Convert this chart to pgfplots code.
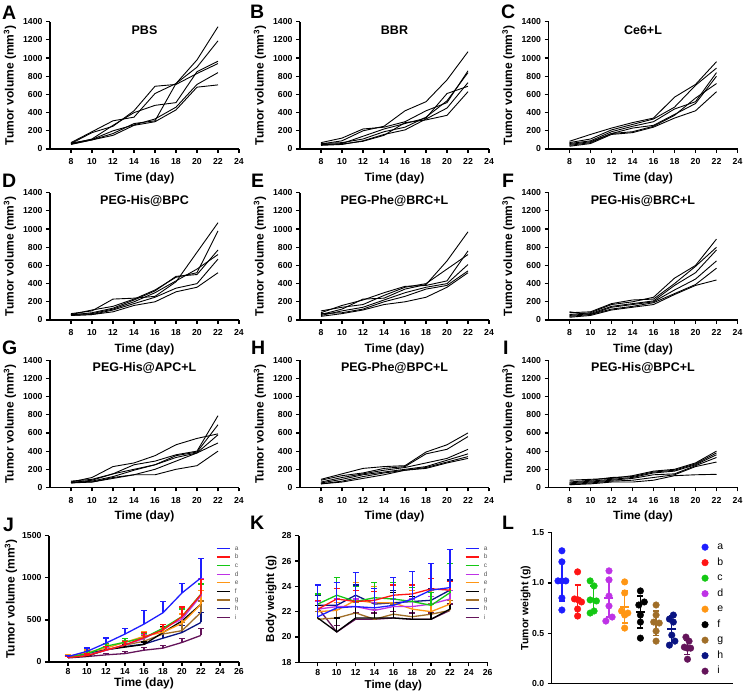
\documentclass[border=0pt]{standalone}
\usepackage{pgfplots}
\usepackage{pgfplotstable}
\pgfplotsset{compat=1.18}
\usepackage{fontspec}
\setmainfont{Liberation Sans}

\definecolor{ca}{RGB}{30,30,255}
\definecolor{cb}{RGB}{255,20,20}
\definecolor{cc}{RGB}{20,200,20}
\definecolor{cd}{RGB}{190,50,230}
\definecolor{ce}{RGB}{255,150,20}
\definecolor{cf}{RGB}{0,0,0}
\definecolor{cg}{RGB}{160,110,40}
\definecolor{ch}{RGB}{10,20,130}
\definecolor{ci}{RGB}{100,20,90}

\pgfplotstableread{
x l1 l2 l3 l4 l5 l6
8 60 70 55 50 65 55
10 180 190 110 100 105 100
12 250 310 260 170 200 150
14 420 350 400 280 265 260
16 690 610 480 310 330 300
18 710 720 510 720 460 430
20 830 900 850 980 710 680
22 940 1190 965 1345 840 705
}\tA
\pgfplotstableread{
x l1 l2 l3 l4 l5 l6
8 55 70 45 60 40 50
10 90 120 60 70 50 55
12 200 220 140 110 90 85
14 250 240 220 190 160 150
16 420 300 280 240 210 290
18 520 420 340 350 330 320
20 760 510 610 530 450 370
22 1070 860 690 840 730 630
}\tB
\pgfplotstableread{
x l1 l2 l3 l4 l5 l6
8 85 70 60 50 40 30
10 160 110 90 80 70 60
12 230 210 190 170 170 160
14 290 270 250 230 190 180
16 340 330 300 260 250 240
18 570 460 440 380 370 340
20 710 700 520 500 560 420
22 960 890 840 800 720 630
}\tC
\pgfplotstableread{
x l1 l2 l3 l4 l5 l6
8 70 60 55 60 50 50
10 100 110 80 70 60 60
12 230 150 130 120 110 90
14 240 230 220 200 180 160
16 260 330 320 300 250 200
18 420 470 480 430 350 310
20 745 520 500 560 400 360
22 1070 980 770 720 670 520
}\tD
\pgfplotstableread{
x l1 l2 l3 l4 l5 l6
8 60 80 100 50 70 40
10 120 160 140 100 80 70
12 230 220 170 140 120 110
14 240 300 270 220 200 170
16 340 370 360 300 260 200
18 390 380 400 360 340 250
20 650 430 560 400 380 360
22 970 760 720 610 540 520
}\tE
\pgfplotstableread{
x l1 l2 l3 l4 l5 l6
8 60 80 50 40 90 30
10 80 90 70 60 60 50
12 170 180 150 140 120 110
14 200 220 180 170 150 140
16 250 230 210 200 190 170
18 460 400 380 330 290 280
20 600 590 520 450 390 380
22 890 800 770 650 570 440
}\tF
\pgfplotstableread{
x l1 l2 l3 l4 l5 l6
8 60 70 55 50 60 50
10 110 90 80 70 60 60
12 230 150 150 120 100 110
14 270 250 200 190 140 140
16 350 290 250 250 200 140
18 470 360 350 330 290 200
20 540 400 390 380 380 240
22 590 790 690 580 490 400
}\tG
\pgfplotstableread{
x l1 l2 l3 l4 l5 l6
8 90 80 60 50 40 40
10 150 130 110 90 70 60
12 210 160 150 140 120 100
14 230 210 190 170 160 140
16 240 230 220 200 190 190
18 390 370 270 230 220 210
20 470 420 320 300 280 270
22 600 560 420 370 340 320
}\tH
\pgfplotstableread{
x l1 l2 l3 l4 l5 l6
8 80 60 50 40 30 30
10 90 80 70 60 50 40
12 100 110 90 80 70 60
14 130 120 110 100 80 60
16 180 170 160 140 110 80
18 200 190 180 150 140 130
20 270 260 250 240 230 140
22 400 380 360 330 280 145
}\tI
\pgfplotstableread{
x a ae b be c ce d de e ee f fe g ge h he i ie
8 65 12 53 8 56 15 57 10 67 20 58 20 57 8 60 20 48 20
10 126 40 75 20 95 25 80 20 112 30 68 15 78 18 102 35 65 20
12 225 60 141 40 188 30 138 35 165 40 145 25 143 45 147 40 85 20
14 332 63 202 40 235 40 205 35 233 45 177 30 200 50 183 35 100 25
16 450 162 290 60 287 50 277 50 305 60 208 30 247 70 212 20 140 35
18 585 133 380 65 400 50 400 50 353 55 350 65 333 90 283 80 165 30
20 820 116 538 115 540 90 509 130 460 110 488 90 372 100 350 80 232 45
22 1000 232 803 180 807 120 788 200 687 160 687 160 590 135 470 120 316 85
}\tJ
\pgfplotstableread{
x a ae b be c ce d de e ee f fe g ge h he i ie
8 21.6 2.5 22.2 0.7 22.6 0.8 22.2 0.6 22.0 0.8 21.5 1.0 21.4 0.6 22.5 0.8 22.3 0.5
10 22.3 2.0 23.0 0.8 23.3 1.4 22.4 0.6 22.1 0.6 20.4 1.1 21.5 0.7 22.5 1.8 20.4 0.5
12 22.4 2.7 22.8 0.9 22.8 1.2 22.4 0.6 22.9 1.4 21.5 1.5 21.9 0.8 23.3 0.8 21.4 0.5
14 22.3 1.5 22.9 0.7 23.1 1.2 22.1 0.6 22.7 1.3 21.5 2.1 21.4 0.8 22.6 1.0 21.4 0.5
16 22.5 2.2 23.3 0.8 23.0 1.3 22.4 0.6 22.7 1.4 21.5 2.0 21.8 0.8 22.7 1.0 21.5 0.5
18 23.0 2.2 23.4 0.7 22.8 1.1 22.4 0.6 22.2 1.5 21.4 1.8 21.6 0.8 22.8 0.9 21.4 0.5
20 23.7 2.1 23.8 0.8 22.5 1.0 22.6 0.6 22.0 1.7 21.4 1.8 21.8 0.8 22.9 0.9 21.4 0.5
22 23.9 3.0 23.7 0.7 23.5 2.3 23.0 0.7 22.6 1.8 22.2 2.2 22.1 0.8 23.7 0.8 22.1 0.5
}\tK

\pgfplotsset{
  gp/.style={
    scale only axis, anchor=south west,
    axis x line*=bottom, axis y line*=left,
    axis line style={line width=1.2pt},
    tick align=outside, major tick length=4pt,
    every tick/.style={black, line width=1.2pt},
    ticklabel style={font=\bfseries\fontsize{8.7}{10}\selectfont},
    /pgf/number format/assume math mode=true,
    /pgf/number format/1000 sep={},
    scaled ticks=false,
    label style={font=\bfseries\fontsize{12}{14}\selectfont},
  },
  tv/.style={gp, width=189pt, height=127.3pt, xmin=6, xmax=24, ymin=0, ymax=1400,
    xtick={8,10,...,24}, ytick={0,200,...,1400},
    xlabel={Time (day)}, ylabel={Tumor volume (mm\textsuperscript{3})},
    xlabel style={at={(axis description cs:0.5,-0.228)}, anchor=center},
    ylabel style={at={(axis description cs:-0.212,0.5)}, anchor=center},
    xticklabel style={yshift=-2pt},
    title style={at={(axis description cs:0.5,0.89)}, anchor=center, font=\bfseries\fontsize{12.5}{14}\selectfont},
  },
  jk/.style={#1, line width=1.3pt, mark=none,
    error bars/.cd, y dir=plus, y explicit,
    error bar style={line width=1.2pt, #1},
    error mark options={rotate=90, line width=1.2pt, mark size=3pt, #1}},
  lm/.style={forget plot, #1, only marks, mark=-, mark size=4.5pt, mark options={line width=1.2pt},
    error bars/.cd, y dir=both, y explicit,
    error bar style={line width=1.2pt, #1},
    error mark options={rotate=90, line width=1.2pt, mark size=3pt, #1}},
  lp/.style={#1, only marks, mark=*, mark size=3.3pt},
  jleg/.style={legend style={at={(axis description cs:0.863,0.945)}, anchor=north west, draw=none, fill=none,
      font=\fontsize{6.5}{7}\selectfont, text=black!65,
      nodes={inner sep=0.5pt, text height=5pt, text depth=1pt}, row sep=1.6pt,
      /tikz/every odd column/.append style={column sep=4pt}},
    legend cell align=left, reverse legend,
    legend image code/.code={\draw[##1, line width=1.2pt] (0pt,0pt) -- (13pt,0pt);}},
}

\newcommand{\panel}[4]{%
  \begin{axis}[tv, at={(#1)}, title={#3}]
    \pgfplotsinvokeforeach{l1,l2,l3,l4,l5,l6}{\addplot[black, line width=0.9pt, mark=none, solid] table[x=x,y=##1]{#4};}
  \end{axis}}

\newcommand{\plab}[2]{\node[anchor=base west, inner sep=0pt, font=\bfseries\fontsize{19.5}{20}\selectfont] at (#1) {#2};}

\begin{document}
\begin{tikzpicture}
\useasboundingbox (0pt,0pt) rectangle (745pt,-700pt);

\panel{50pt,-149pt}{}{PBS}{\tA}
\panel{300pt,-149pt}{}{BBR}{\tB}
\panel{548.5pt,-149pt}{}{Ce6+L}{\tC}
\panel{50pt,-320pt}{}{PEG-His@BPC}{\tD}
\panel{300pt,-320pt}{}{PEG-Phe@BRC+L}{\tE}
\panel{548.5pt,-320pt}{}{PEG-His@BRC+L}{\tF}
\panel{50pt,-487.5pt}{}{PEG-His@APC+L}{\tG}
\panel{300pt,-487.5pt}{}{PEG-Phe@BPC+L}{\tH}
\panel{548.5pt,-487.5pt}{}{PEG-His@BPC+L}{\tI}

% J
\begin{axis}[gp, at={(49pt,-662pt)}, width=190pt, height=126.3pt,
  xmin=6, xmax=26, ymin=0, ymax=1500, xtick={8,10,...,26}, ytick={0,500,1000,1500},
  xlabel={Time (day)}, ylabel={Tumor volume (mm\textsuperscript{3})},
  xlabel style={at={(axis description cs:0.5,-0.17)}, anchor=center},
  ylabel style={at={(axis description cs:-0.2,0.5)}, anchor=center},
  xticklabel style={yshift=1pt}, jleg]
  \addplot[jk=ci] table[x=x,y=i,y error=ie]{\tJ}; \addlegendentry{i}
  \addplot[jk=ch] table[x=x,y=h,y error=he]{\tJ}; \addlegendentry{h}
  \addplot[jk=cg] table[x=x,y=g,y error=ge]{\tJ}; \addlegendentry{g}
  \addplot[jk=cf] table[x=x,y=f,y error=fe]{\tJ}; \addlegendentry{f}
  \addplot[jk=ce] table[x=x,y=e,y error=ee]{\tJ}; \addlegendentry{e}
  \addplot[jk=cd] table[x=x,y=d,y error=de]{\tJ}; \addlegendentry{d}
  \addplot[jk=cc] table[x=x,y=c,y error=ce]{\tJ}; \addlegendentry{c}
  \addplot[jk=cb] table[x=x,y=b,y error=be]{\tJ}; \addlegendentry{b}
  \addplot[jk=ca] table[x=x,y=a,y error=ae]{\tJ}; \addlegendentry{a}
\end{axis}

% K
\begin{axis}[gp, at={(299pt,-662.3pt)}, width=188.7pt, height=126.6pt,
  xmin=6, xmax=26, ymin=18, ymax=28, xtick={8,10,...,26}, ytick={18,20,...,28},
  xlabel={Time (day)}, ylabel={Body weight (g)},
  label style={font=\bfseries\fontsize{11.5}{13}\selectfont},
  xlabel style={at={(axis description cs:0.5,-0.18)}, anchor=center},
  ylabel style={at={(axis description cs:-0.148,0.5)}, anchor=center},
  xticklabel style={yshift=0pt}, jleg]
  \addplot[jk=ci] table[x=x,y=i,y error=ie]{\tK}; \addlegendentry{i}
  \addplot[jk=ch] table[x=x,y=h,y error=he]{\tK}; \addlegendentry{h}
  \addplot[jk=cg] table[x=x,y=g,y error=ge]{\tK}; \addlegendentry{g}
  \addplot[jk=cf] table[x=x,y=f,y error=fe]{\tK}; \addlegendentry{f}
  \addplot[jk=ce] table[x=x,y=e,y error=ee]{\tK}; \addlegendentry{e}
  \addplot[jk=cd] table[x=x,y=d,y error=de]{\tK}; \addlegendentry{d}
  \addplot[jk=cc] table[x=x,y=c,y error=ce]{\tK}; \addlegendentry{c}
  \addplot[jk=cb] table[x=x,y=b,y error=be]{\tK}; \addlegendentry{b}
  \addplot[jk=ca] table[x=x,y=a,y error=ae]{\tK}; \addlegendentry{a}
\end{axis}

% L
\begin{axis}[gp, at={(551.7pt,-683.3pt)}, width=181.3pt, height=150.6pt,
  xmin=0.35, xmax=11.9, ymin=0, ymax=1.5, ytick={0,0.5,1,1.5}, xtick=\empty,
  yticklabel style={/pgf/number format/.cd, fixed, fixed zerofill, precision=1},
  ylabel={Tumor weight (g)},
  ylabel style={at={(axis description cs:-0.143,0.5)}, anchor=center, font=\bfseries\fontsize{10.5}{12}\selectfont},
  legend style={at={(axis description cs:0.81,0.955)}, anchor=north west, draw=none, fill=none,
    font=\fontsize{10.5}{12}\selectfont, nodes={inner sep=1pt, text height=7pt, text depth=2pt}, row sep=4.5pt,
    /tikz/every odd column/.append style={column sep=8pt}},
  legend image code/.code={\draw[#1] plot coordinates {(0pt,0pt)};},
  legend cell align=left]
  \addplot[lp=ca] coordinates {(1,1.32) (1,1.21) (0.75,1.02) (1,1.02) (1.25,1.02) (1,0.85) (1,0.73)}; \addlegendentry{a}
  \addplot[lp=cb] coordinates {(2,1.11) (1.8,0.84) (2.05,0.83) (2.25,0.81) (2,0.74) (2,0.67)}; \addlegendentry{b}
  \addplot[lp=cc] coordinates {(2.8,1.02) (3.05,0.97) (2.8,0.83) (3.2,0.82) (3.05,0.72) (2.8,0.70)}; \addlegendentry{c}
  \addplot[lp=cd] coordinates {(4,1.12) (4,1.03) (4,0.87) (4,0.77) (4.2,0.66) (3.8,0.62)}; \addlegendentry{d}
  \addplot[lp=ce] coordinates {(5,1.01) (5,0.90) (4.8,0.72) (5.2,0.70) (5,0.68) (5,0.55)}; \addlegendentry{e}
  \addplot[lp=cf] coordinates {(6,0.92) (6.25,0.81) (5.9,0.78) (6,0.68) (6,0.61) (6,0.45)}; \addlegendentry{f}
  \addplot[lp=cg] coordinates {(7,0.78) (7,0.68) (6.85,0.61) (7.2,0.60) (7,0.52) (7,0.42)}; \addlegendentry{g}
  \addplot[lp=ch] coordinates {(8.1,0.68) (7.85,0.64) (8.1,0.61) (8,0.48) (8.2,0.42) (7.85,0.38)}; \addlegendentry{h}
  \addplot[lp=ci] coordinates {(8.9,0.46) (9.1,0.42) (8.8,0.36) (9.2,0.35) (9,0.35) (9,0.24)}; \addlegendentry{i}
  \addplot[lm=ca] coordinates {(1,1.02) +- (0,0.20)};
  \addplot[lm=cb] coordinates {(2,0.83) +- (0,0.15)};
  \addplot[lm=cc] coordinates {(3,0.84) +- (0,0.13)};
  \addplot[lm=cd] coordinates {(4,0.85) +- (0,0.19)};
  \addplot[lm=ce] coordinates {(5,0.76) +- (0,0.16)};
  \addplot[lm=cf] coordinates {(6,0.71) +- (0,0.16)};
  \addplot[lm=cg] coordinates {(7,0.60) +- (0,0.12)};
  \addplot[lm=ch] coordinates {(8,0.54) +- (0,0.13)};
  \addplot[lm=ci] coordinates {(9,0.36) +- (0,0.07)};
\end{axis}

\plab{2pt,-19.5pt}{A}
\plab{250pt,-19pt}{B}
\plab{501pt,-19pt}{C}
\plab{2pt,-188pt}{D}
\plab{251pt,-188pt}{E}
\plab{502pt,-188pt}{F}
\plab{2pt,-355pt}{G}
\plab{251pt,-355pt}{H}
\plab{503pt,-355pt}{I}
\plab{3pt,-532pt}{J}
\plab{250pt,-530pt}{K}
\plab{502pt,-530pt}{L}
\end{tikzpicture}
\end{document}
